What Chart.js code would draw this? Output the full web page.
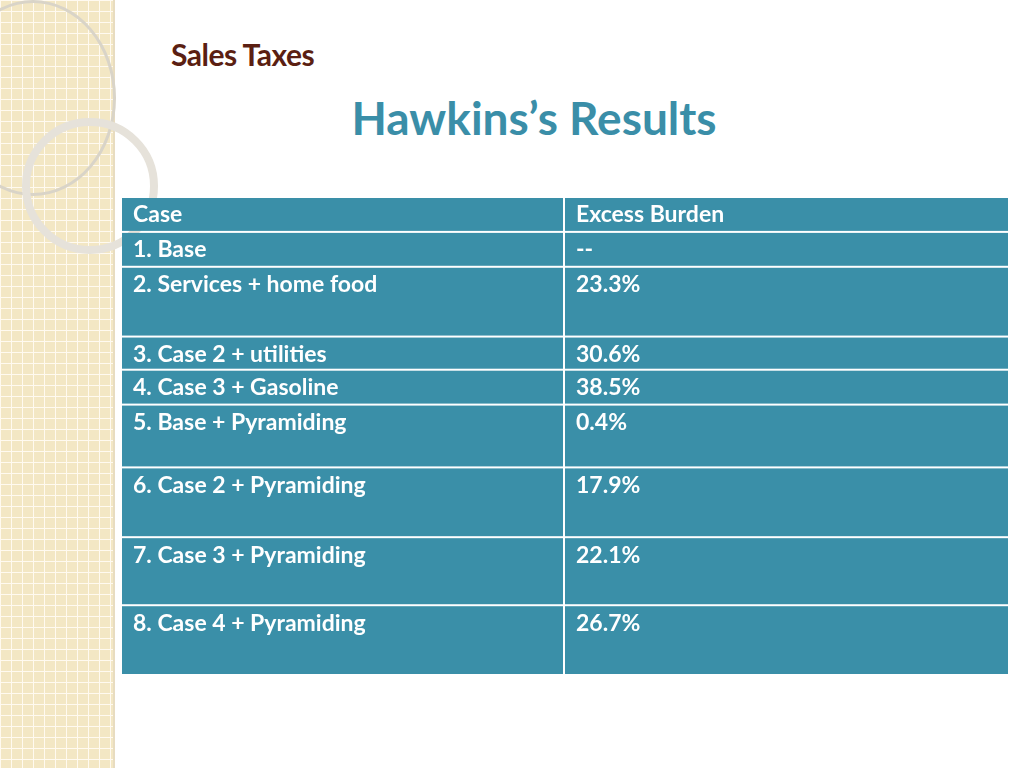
<!DOCTYPE html>
<html>
<head>
<meta charset="utf-8">
<script src="https://cdn.jsdelivr.net/npm/chart.js@4"></script>
<style>
  body { margin: 0; width: 1024px; height: 768px; background: #fff; position: relative; overflow: hidden; font-family: "Lato", sans-serif; }
  .strip { position: absolute; left: 0; top: 0; width: 113px; height: 768px; background-color: #f3e7c4;
    background-image: linear-gradient(#fffaf0 1px, transparent 1px), linear-gradient(90deg, #fffaf0 1px, transparent 1px);
    background-size: 11px 11px; border-right: 2px solid #e8dcc0; }
  .ring { position: absolute; border-radius: 50%; border: 3px solid #d9d4c8; }
  .subtitle { position: absolute; left: 171px; top: 36px; font-size: 30px; font-weight: bold; color: #5b1f12; letter-spacing: -0.5px; }
  .title { position: absolute; left: 0; width: 1068px; text-align: center; top: 90px; font-size: 46px; font-weight: bold; color: #3a8ea8; }
  #wrap { position: absolute; left: 122px; top: 198px; width: 886px; height: 478px; }
</style>
</head>
<body>
<div class="strip"></div>
<div class="ring" style="left:-50px;top:0px;width:160px;height:190px;"></div>
<div class="ring" style="left:22px;top:118px;width:120px;height:120px;border-width:8px;border-color:#e6e2da;"></div>
<div class="subtitle">Sales Taxes</div>
<div class="title">Hawkins’s Results</div>
<div id="wrap"><canvas id="tbl"></canvas></div>
<script>
// Table content
const headers = ['Case', 'Excess Burden'];
const cases = ['1. Base', '2. Services + home food', '3. Case 2 + utilities', '4. Case 3 + Gasoline',
  '5. Base + Pyramiding', '6. Case 2 + Pyramiding', '7. Case 3 + Pyramiding', '8. Case 4 + Pyramiding'];
const burdens = ['--', '23.3%', '30.6%', '38.5%', '0.4%', '17.9%', '22.1%', '26.7%'];
// row heights (header first), in table units
const rowHeights = [1, 1, 2, 0.95, 1, 1.8, 2, 1.95, 2];

const total = rowHeights.reduce((a, b) => a + b, 0);
const rows = [headers].concat(cases.map((c, i) => [c, burdens[i]]));

const tablePlugin = {
  id: 'tablePlugin',
  afterDraw(chart) {
    const { ctx, scales: { x, y } } = chart;
    let top = 0;
    rows.forEach((row, r) => {
      const bottom = top + rowHeights[r];
      const py0 = y.getPixelForValue(top), py1 = y.getPixelForValue(bottom);
      row.forEach((txt, c) => {
        const px0 = x.getPixelForValue(c), px1 = x.getPixelForValue(c + 1);
        ctx.fillStyle = '#3a8fa8';
        ctx.fillRect(px0, py0, px1 - px0 - (c === 0 ? 2 : 0), py1 - py0 - 2);
        ctx.fillStyle = '#ffffff';
        ctx.font = 'bold 23px Lato, sans-serif';
        ctx.textBaseline = 'middle';
        ctx.fillText(txt, px0 + 11, py0 + 17);
      });
      top = bottom;
    });
  }
};

new Chart(document.getElementById('tbl'), {
  type: 'scatter',
  data: { datasets: [{ data: [] }] },
  options: {
    responsive: true,
    maintainAspectRatio: false,
    animation: false,
    layout: { padding: 0 },
    plugins: { legend: { display: false }, tooltip: { enabled: false } },
    scales: {
      x: { type: 'linear', min: 0, max: 2, display: false },
      y: { type: 'linear', min: 0, max: total, reverse: true, display: false }
    }
  },
  plugins: [tablePlugin]
});
</script>
</body>
</html>
